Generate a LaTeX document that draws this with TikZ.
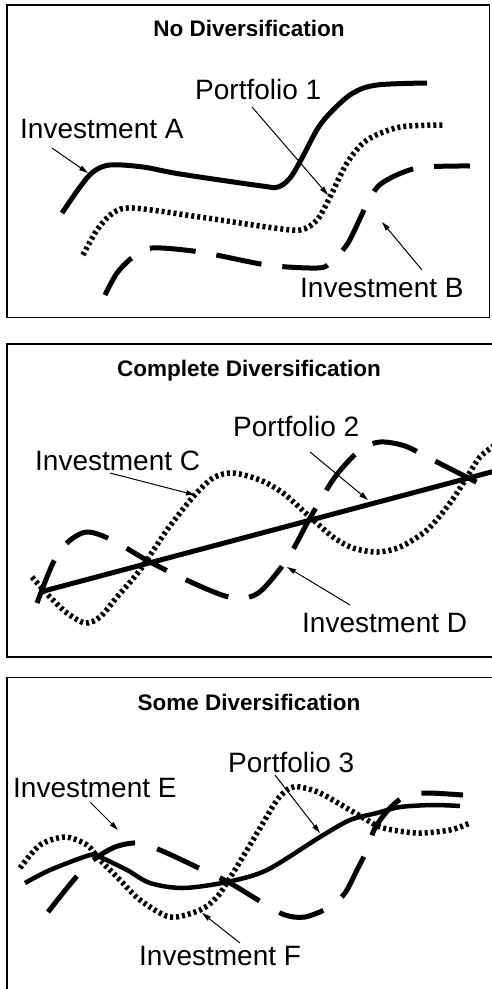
\documentclass[tikz,border=0pt]{standalone}
\usepackage{fontspec}
\setmainfont{Liberation Sans}
\usetikzlibrary{arrows.meta}
\begin{document}
\begin{tikzpicture}[x=1pt,y=-1pt,
  panel/.style={draw=black, line width=1.5pt},
  ttl/.style={font=\fontsize{22.5}{26}\selectfont\bfseries, anchor=base, inner sep=0pt},
  lbl/.style={font=\fontsize{28}{32}\selectfont, anchor=base west, inner sep=0pt},
  solidcurve/.style={line width=5pt},
  dotcurve/.style={line width=5.5pt, dash pattern=on 3pt off 3pt},
  dashcurve/.style={line width=5pt, dash pattern=on 46pt off 21pt},
  pointer/.style={line width=1pt, -{Triangle[length=9pt,width=5pt]}}
]
\useasboundingbox (0,0) rectangle (492,989);
\clip (0,0) rectangle (492,989);

% ---------------- Panel 1: no diversification ----------------
\draw[panel] (7,5) rectangle (489.5,317.5);
\node[ttl] (t1) at (249,36) {No Diversification};
\node[lbl] (invA) at (20,138) {Investment A};
\node[lbl] (port1) at (195,99) {Portfolio 1};
\node[lbl] (invB) at (300,297) {Investment B};

\draw[solidcurve] plot[smooth, tension=0.55] coordinates {
  (62,213) (80,187) (93,172) (110,165) (143,167) (180,174) (262,186)
  (278,187) (290,178) (302,158) (318,128) (333,110) (353,93) (377,85) (427,83)};
\draw[dotcurve] plot[smooth, tension=0.5] coordinates {
  (83,255) (97,230) (113,213) (133,208) (200,217) (267,227) (300,230)
  (317,220) (330,197) (347,163) (367,140) (400,127) (443,125)};
\draw[dashcurve] plot[smooth, tension=0.5] coordinates {
  (105,295) (117,273) (133,257) (152,248) (200,252) (267,265) (317,268)
  (330,263) (348,243) (368,202) (382,183) (417,168) (470,166)};

\coordinate (a1) at (52,148);  \coordinate (a2) at (88,173);
\coordinate (p1) at (252,107); \coordinate (p2) at (328,195);
\coordinate (b1) at (422,270); \coordinate (b2) at (382,222);
\draw[pointer] (a1) -- (a2);
\draw[pointer] (p1) -- (p2);
\draw[pointer] (b1) -- (b2);

% ---------------- Panel 2: complete diversification ----------------
\draw[panel] (7,344) rectangle (520,657);
\node[ttl] (t2) at (249,376) {Complete Diversification};
\node[lbl] (port2) at (233,436) {Portfolio 2};
\node[lbl] (invC) at (35,470) {Investment C};
\node[lbl] (invD) at (302,632) {Investment D};

\draw[dotcurve] plot[smooth, tension=0.5] coordinates {
  (32,577) (50,597) (67,613) (85,623) (100,617) (117,597) (140,570)
  (167,530) (193,497) (213,478) (233,473) (260,480) (283,493) (310,517)
  (333,537) (353,548) (377,552) (400,547) (427,530) (450,503) (467,477)
  (480,457) (495,445)};
\draw[dashcurve] plot[smooth, tension=0.5] coordinates {
  (37,603) (53,563) (68,542) (87,532) (112,540) (150,562) (193,583)
  (225,596) (245,598) (262,590) (288,558) (310,518) (335,477) (360,450)
  (380,442) (405,446) (433,460) (492,490) (500,494)};
\draw[solidcurve] (40,592) -- (495,471);

\coordinate (c1) at (110,473); \coordinate (c2) at (195,495);
\coordinate (q1) at (310,452); \coordinate (q2) at (368,500);
\coordinate (d1) at (350,605); \coordinate (d2) at (287,567);
\draw[pointer] (c1) -- (c2);
\draw[pointer] (q1) -- (q2);
\draw[pointer] (d1) -- (d2);

% ---------------- Panel 3: some diversification ----------------
\draw[panel] (7,677.5) rectangle (520,1000);
\node[ttl] (t3) at (249,710) {Some Diversification};
\node[lbl] (port3) at (228,772) {Portfolio 3};
\node[lbl] (invE) at (13,797) {Investment E};
\node[lbl] (invF) at (139,965) {Investment F};

\draw[dotcurve] plot[smooth, tension=0.5] coordinates {
  (20,868) (40,845) (65,837) (87,845) (100,860) (120,880) (140,900)
  (170,917) (200,910) (217,897) (233,873) (253,840) (277,800) (290,788)
  (300,787) (320,793) (350,810) (367,820) (383,828) (417,833) (450,830)
  (470,823)};
\draw[dashcurve, dash pattern=on 46pt off 23pt] plot[smooth, tension=0.5] coordinates {
  (48,912) (63,893) (78,875) (93,860) (115,847) (137,843) (160,850)
  (203,870) (230,883) (263,903) (285,915) (305,917) (330,907) (345,893)
  (357,870) (367,850) (375,828) (390,808) (407,795) (428,793) (463,795)};
\draw[solidcurve, line width=4.5pt] plot[smooth, tension=0.5] coordinates {
  (25,883) (50,870) (90,855) (100,857) (127,870) (150,883) (183,888)
  (227,882) (267,870) (320,837) (350,820) (377,813) (400,807) (433,805)
  (460,806)};

\coordinate (e1) at (90,802);  \coordinate (e2) at (118,830);
\coordinate (r1) at (275,775); \coordinate (r2) at (320,833);
\coordinate (f1) at (240,943); \coordinate (f2) at (202,913);
\draw[pointer] (e1) -- (e2);
\draw[pointer] (r1) -- (r2);
\draw[pointer] (f1) -- (f2);
\end{tikzpicture}
\end{document}
